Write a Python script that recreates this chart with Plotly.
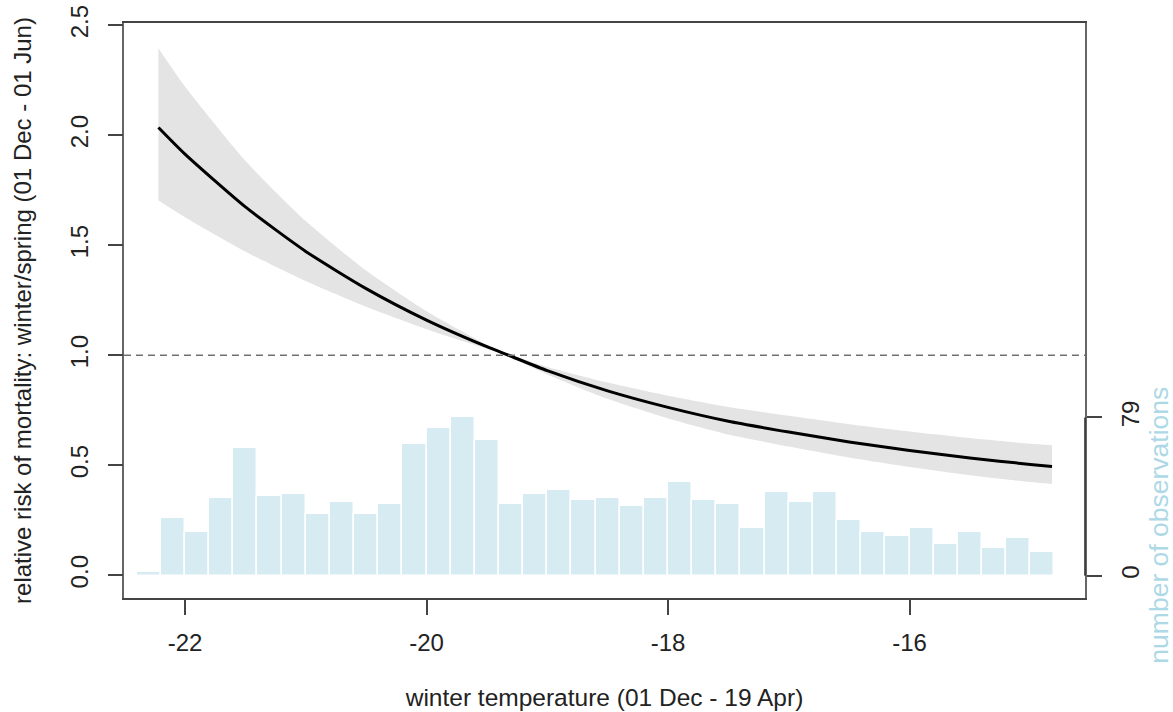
import plotly.graph_objects as go

# ---- data ----
bin_left_edges = [-22.4 + 0.2 * i for i in range(38)]
counts = [2, 29, 22, 39, 64, 40, 41, 31, 37, 31, 36, 66, 74, 79, 68, 36, 41, 43, 38,
          39, 35, 39, 47, 38, 36, 24, 42, 37, 42, 28, 22, 20, 24, 16, 22, 14, 19, 12]
bin_width = 0.2

temp = [-22.22, -22.0, -21.5, -21.0, -20.5, -20.0, -19.5, -19.32, -19.0, -18.5,
        -18.0, -17.5, -17.0, -16.5, -16.0, -15.5, -15.0, -14.82]
rr = [2.035, 1.914, 1.674, 1.472, 1.303, 1.160, 1.039, 1.000, 0.930, 0.838,
      0.763, 0.700, 0.651, 0.606, 0.567, 0.533, 0.504, 0.494]
rr_upper = [2.395, 2.221, 1.884, 1.610, 1.385, 1.200, 1.048, 1.006, 0.947, 0.876,
            0.816, 0.765, 0.725, 0.687, 0.654, 0.624, 0.598, 0.592]
rr_lower = [1.703, 1.627, 1.471, 1.337, 1.220, 1.118, 1.029, 0.994, 0.913, 0.802,
            0.713, 0.640, 0.585, 0.535, 0.492, 0.455, 0.424, 0.415]

x_ticks = [-22, -20, -18, -16]
rr_ticks = [0.0, 0.5, 1.0, 1.5, 2.0, 2.5]
rr_ticktext = ["0.0", "0.5", "1.0", "1.5", "2.0", "2.5"]
count_ticks = [0, 79]

FONT = "Liberation Sans, Arial, sans-serif"
TXT = "#222222"
BAR = "rgb(214,235,242)"
BLUE_TITLE = "rgb(173,216,230)"
BAND = "rgb(228,228,228)"

fig = go.Figure()

bin_centers = [e + bin_width / 2 for e in bin_left_edges]
fig.add_trace(go.Bar(
    x=bin_centers, y=counts, width=bin_width, yaxis="y",
    marker=dict(color=BAR, line=dict(color="white", width=1.5)),
    showlegend=False, hoverinfo="skip"))

fig.add_trace(go.Scatter(
    x=temp, y=rr_lower, yaxis="y2", mode="lines",
    line=dict(width=0, color=BAND, shape="spline", smoothing=0.6),
    showlegend=False, hoverinfo="skip"))
fig.add_trace(go.Scatter(
    x=temp, y=rr_upper, yaxis="y2", mode="lines", fill="tonexty", fillcolor=BAND,
    line=dict(width=0, color=BAND, shape="spline", smoothing=0.6),
    showlegend=False, hoverinfo="skip"))

fig.add_trace(go.Scatter(
    x=temp, y=rr, yaxis="y2", mode="lines",
    line=dict(color="black", width=3, shape="spline", smoothing=0.6),
    showlegend=False))

fig.add_shape(type="line", xref="paper", x0=0, x1=1, yref="y2", y0=1, y1=1,
              line=dict(color="#707070", width=1.3, dash="7px,5px"))
fig.add_shape(type="line", xref="paper", x0=1, x1=1, yref="y",
              y0=count_ticks[0], y1=count_ticks[-1],
              line=dict(color="#333333", width=1.6))

fig.add_annotation(text="number of observations", textangle=-90,
                   xref="paper", x=1, xshift=74, xanchor="center",
                   yref="y", y=25, yanchor="middle", showarrow=False,
                   font=dict(family=FONT, size=26.5, color=BLUE_TITLE))

fig.update_layout(
    width=1173, height=712,
    margin=dict(l=124, r=88, t=23, b=114),
    paper_bgcolor="white", plot_bgcolor="white",
    font=dict(family=FONT, size=24, color=TXT),
    bargap=0,
    xaxis=dict(
        range=[-22.505, -14.547], tickvals=x_ticks, ticktext=[str(v) for v in x_ticks],
        ticks="outside", ticklen=15, tickwidth=1.5, tickcolor="#444444",
        showline=True, mirror=True, linecolor="#444444", linewidth=1.5,
        showgrid=False, zeroline=False, ticklabelstandoff=7, automargin=False,
        title=dict(text="winter temperature (01 Dec - 19 Apr)", standoff=34,
                   font=dict(size=24.5, color=TXT))),
    yaxis=dict(
        side="right", range=[-11.14, 276.0], tickvals=count_ticks,
        ticktext=[str(v) for v in count_ticks], tickangle=-90,
        ticks="outside", ticklen=15, tickwidth=1.5, tickcolor="#444444",
        showline=True, mirror=True, linecolor="#666666", linewidth=1.5,
        showgrid=False, zeroline=False, ticklabelstandoff=8, automargin=False),
    yaxis2=dict(
        overlaying="y", side="left", range=[-0.1032, 2.510], tickvals=rr_ticks,
        ticktext=rr_ticktext, tickangle=-90,
        ticks="outside", ticklen=15, tickwidth=1.5, tickcolor="#444444",
        showline=False, showgrid=False, zeroline=False, ticklabelstandoff=10,
        automargin=False,
        title=dict(text="relative risk of mortality: winter/spring (01 Dec - 01 Jun)",
                   standoff=28, font=dict(size=24, color=TXT))),
)

fig.write_html("out.html")
